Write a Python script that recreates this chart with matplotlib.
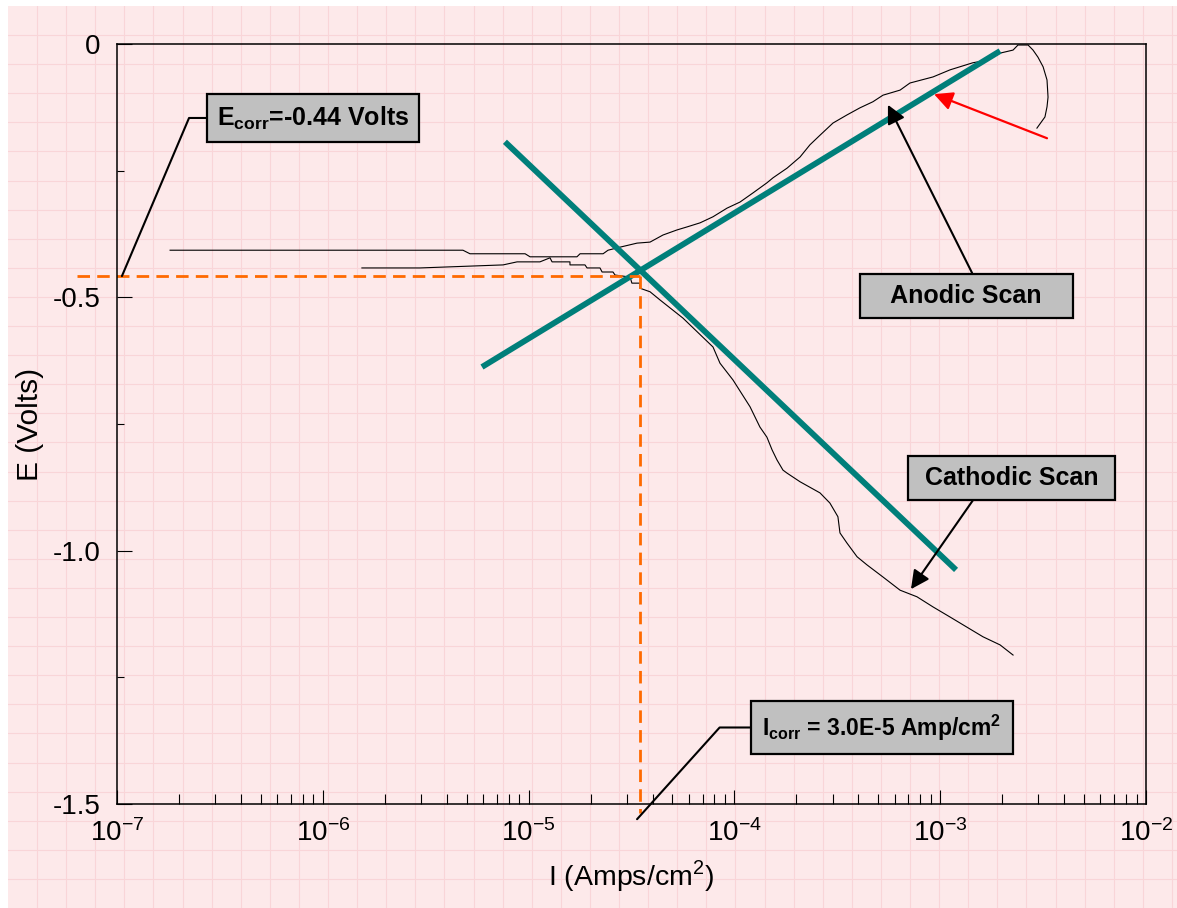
import matplotlib
matplotlib.use("Agg")
import matplotlib.pyplot as plt
import numpy as np
from matplotlib.ticker import LogLocator, MultipleLocator, FixedLocator, FuncFormatter

plt.rcParams['font.family'] = ['Liberation Sans', 'DejaVu Sans']
plt.rcParams['mathtext.fontset'] = 'custom'
plt.rcParams['mathtext.rm'] = 'Liberation Sans'
plt.rcParams['mathtext.bf'] = 'Liberation Sans:bold'
plt.rcParams['axes.unicode_minus'] = False

# anodic scan (log10 of current density, potential in V)
log_i_anodic = [-6.742, -5.319, -5.285, -5.017, -4.993, -4.765, -4.750, -4.638, -4.614, -4.556,
                -4.473, -4.410, -4.347, -4.279, -4.230, -4.167, -4.104, -4.036, -3.973, -3.910,
                -3.842, -3.812, -3.744, -3.681, -3.633, -3.584, -3.521, -3.453, -3.390, -3.327,
                -3.278, -3.195, -3.147, -3.035, -2.952, -2.841, -2.773, -2.709, -2.646, -2.622,
                -2.573, -2.549, -2.525, -2.500, -2.481, -2.476, -2.481, -2.491, -2.530]
e_anodic = [-0.407, -0.407, -0.414, -0.414, -0.420, -0.420, -0.414, -0.414, -0.407, -0.401,
            -0.393, -0.391, -0.377, -0.367, -0.361, -0.353, -0.341, -0.324, -0.312, -0.294,
            -0.274, -0.264, -0.245, -0.223, -0.199, -0.180, -0.156, -0.140, -0.126, -0.114,
            -0.101, -0.091, -0.077, -0.065, -0.051, -0.037, -0.032, -0.018, -0.012, -0.002,
            -0.002, -0.012, -0.026, -0.045, -0.071, -0.105, -0.124, -0.144, -0.166]

# cathodic scan
log_i_cathodic = [-5.810, -5.528, -5.124, -5.056, -4.945, -4.896, -4.886, -4.799, -4.799, -4.726,
                  -4.716, -4.653, -4.643, -4.590, -4.580, -4.507, -4.498, -4.459, -4.459, -4.410,
                  -4.362, -4.250, -4.104, -4.070, -4.007, -3.924, -3.876, -3.842, -3.817, -3.793,
                  -3.764, -3.744, -3.681, -3.584, -3.536, -3.497, -3.487, -3.453, -3.404, -3.356,
                  -3.278, -3.195, -3.113, -3.035, -2.952, -2.870, -2.792, -2.709, -2.646]
e_cathodic = [-0.442, -0.442, -0.436, -0.430, -0.430, -0.422, -0.430, -0.430, -0.436, -0.436,
              -0.442, -0.442, -0.450, -0.450, -0.456, -0.460, -0.472, -0.472, -0.482, -0.489,
              -0.505, -0.541, -0.598, -0.630, -0.663, -0.716, -0.756, -0.776, -0.801, -0.821,
              -0.841, -0.847, -0.864, -0.886, -0.906, -0.933, -0.965, -0.985, -1.012, -1.028,
              -1.052, -1.078, -1.091, -1.111, -1.131, -1.151, -1.170, -1.186, -1.206]

# tafel fits
log_i_tafel_a = [-5.2265, -2.709]
e_tafel_a = [-0.6375, -0.0138]
log_i_tafel_c = [-5.115, -2.923]
e_tafel_c = [-0.193, -1.038]

# corrosion point and guide extents
log_i_corr = -4.459
e_corr = -0.458
log_i_guide_left = -7.194
e_guide_bottom = -1.518

teal = '#007f7a'
orange = '#ff6a00'
box = dict(boxstyle='square,pad=0.4', fc='#c0c0c0', ec='black', lw=1.6)

fig = plt.figure(figsize=(11.77, 9.08), dpi=100, facecolor='white')

# graph paper background
bg = fig.add_axes([8 / 1177, 0, 1169 / 1177, 902 / 908], zorder=-5)
bg.set_facecolor('#fde9ea')
bg.set_xlim(8, 1177)
bg.set_ylim(908, 6)
bg.xaxis.set_major_locator(FixedLocator(np.arange(7.9, 1177, 29.1)))
bg.yaxis.set_major_locator(FixedLocator(np.arange(5.9, 908, 29.1)))
bg.grid(True, color='#f9d5d8', lw=0.8)
bg.tick_params(length=0, labelbottom=False, labelleft=False)
for s in bg.spines.values():
    s.set_visible(False)

ax = fig.add_axes([117 / 1177, 104 / 908, 1029 / 1177, 760 / 908])
ax.patch.set_alpha(0)

ax.plot(10 ** np.array(log_i_anodic), e_anodic, color='black', lw=0.8)
ax.plot(10 ** np.array(log_i_cathodic), e_cathodic, color='black', lw=0.8)
ax.plot(10 ** np.array(log_i_tafel_a), e_tafel_a, color=teal, lw=4.2, solid_capstyle='butt')
ax.plot(10 ** np.array(log_i_tafel_c), e_tafel_c, color=teal, lw=4.2, solid_capstyle='butt')

ax.plot([10 ** log_i_guide_left, 10 ** log_i_corr], [e_corr, e_corr], color=orange, lw=2.0,
        dashes=(4.5, 2.6), clip_on=False)
ax.plot([10 ** log_i_corr, 10 ** log_i_corr], [e_corr, e_guide_bottom], color=orange, lw=2.0,
        dashes=(4.5, 2.6), clip_on=False)

ax.set_xscale('log')
ax.set_xlim(1e-7, 1e-2)
ax.set_ylim(-1.5, 0)

ax.xaxis.set_major_locator(LogLocator(base=10, numticks=10))
ax.xaxis.set_minor_locator(LogLocator(base=10, subs=np.arange(2, 10), numticks=20))
ax.yaxis.set_major_locator(MultipleLocator(0.5))
ax.yaxis.set_minor_locator(MultipleLocator(0.25))
ax.yaxis.set_major_formatter(FuncFormatter(lambda v, p: '0' if abs(v) < 1e-9 else '%.1f' % v))
ax.xaxis.set_minor_formatter(FuncFormatter(lambda v, p: ''))

ax.tick_params(which='both', direction='in', top=False, right=False, labelsize=20, width=0.8)
ax.tick_params(axis='x', which='major', length=10, pad=11)
ax.tick_params(axis='x', which='minor', length=7)
ax.tick_params(axis='y', which='major', length=11, pad=12)
ax.tick_params(axis='y', which='minor', length=5)
for s in ax.spines.values():
    s.set_linewidth(1.1)

ax.set_xlabel('I (Amps/cm$^2$)', fontsize=20.5, labelpad=8)
ax.set_ylabel('E (Volts)', fontsize=21.5, labelpad=6)

# annotations
ax.annotate('E$_{\\mathbf{corr}}$=-0.44 Volts', xy=(10 ** -6.976, e_corr),
            xytext=(10 ** -6.048, -0.146), fontsize=18, fontweight='bold',
            ha='center', va='center', bbox=box,
            arrowprops=dict(arrowstyle='-', color='black', lw=1.5,
                            connectionstyle='angle,angleA=0,angleB=67,rad=0',
                            shrinkA=0, shrinkB=0))

ax.annotate('I$_{\\mathbf{corr}}$ = 3.0E-5 Amp/cm$^{\\mathbf{2}}$', xy=(10 ** -4.473, -1.530),
            xytext=(10 ** -3.283, -1.349), fontsize=16.5, fontweight='bold',
            ha='center', va='center', annotation_clip=False,
            bbox=dict(boxstyle='square,pad=0.5', fc='#c0c0c0', ec='black', lw=1.6),
            arrowprops=dict(arrowstyle='-', color='black', lw=1.5,
                            connectionstyle='angle,angleA=0,angleB=48,rad=0',
                            shrinkA=0, shrinkB=0))

ax.annotate('   Anodic Scan   ', xy=(10 ** -3.254, -0.120), xytext=(10 ** -2.872, -0.497),
            fontsize=18, fontweight='bold', ha='center', va='center', bbox=box,
            arrowprops=dict(arrowstyle='-|>', color='black', lw=1.5, mutation_scale=28,
                            relpos=(0.557, 1.0), shrinkA=0, shrinkB=0))

ax.annotate(' Cathodic Scan ', xy=(10 ** -3.142, -1.076), xytext=(10 ** -2.653, -0.856),
            fontsize=18, fontweight='bold', ha='center', va='center', bbox=box,
            arrowprops=dict(arrowstyle='-|>', color='black', lw=1.5, mutation_scale=28,
                            relpos=(0.333, 0.0), shrinkA=0, shrinkB=0))

ax.annotate('', xy=(10 ** -3.030, -0.099), xytext=(10 ** -2.481, -0.186),
            arrowprops=dict(arrowstyle='-|>', color='red', lw=1.6, mutation_scale=28,
                            shrinkA=0, shrinkB=0))

fig.savefig('out.png', dpi=100, facecolor='white')
